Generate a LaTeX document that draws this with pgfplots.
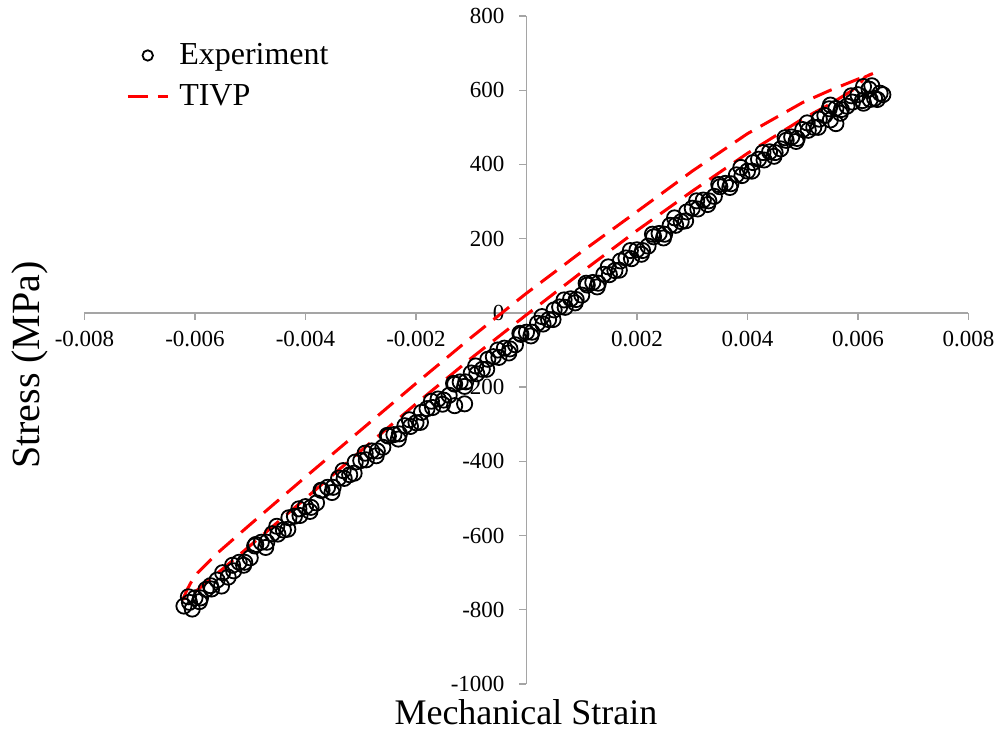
\documentclass[border=0pt]{standalone}
\usepackage{fontspec}
\setmainfont{Liberation Serif}
\usepackage{pgfplots}
\pgfplotsset{compat=1.18}
\definecolor{axgray}{RGB}{165,165,165}
\pgfplotsset{
  expleg/.style={legend image code/.code={\draw[##1, mark size=2.6pt] plot coordinates {(10pt,0pt)};}},
  lineleg/.style={legend image code/.code={\draw[##1] (0pt,0pt) -- (20pt,0pt);}},
}
\begin{document}
\begin{tikzpicture}[x=1pt,y=1pt]
\path[use as bounding box] (0,0) rectangle (500.5,365);
\begin{axis}[
  at={(42.25pt,23pt)}, anchor=south west,
  scale only axis, width=442pt, height=334pt,
  xmin=-0.008, xmax=0.008, ymin=-1000, ymax=800,
  axis lines=middle,
  axis line style={draw=axgray, line width=0.7pt, -},
  scaled x ticks=false, scaled y ticks=false,
  xtick={-0.008,-0.006,-0.004,-0.002,0.002,0.004,0.006,0.008},
  xticklabels={-0.008,-0.006,-0.004,-0.002,0.002,0.004,0.006,0.008},
  ytick={-1000,-800,-600,-400,-200,0,200,400,600,800},
  yticklabels={-1000,-800,-600,-400,-200,0,200,400,600,800},
  hide obscured x ticks=false, hide obscured y ticks=false,
  tick align=outside, major tick length=3.5pt,
  tick style={draw=axgray, line width=0.7pt},
  x tick label style={font=\fontsize{11.5}{14}\selectfont, yshift=-2pt},
  y tick label style={font=\fontsize{11.5}{14}\selectfont, xshift=-4pt},
  clip=false,
  xlabel={Mechanical Strain}, ylabel={Stress (MPa)},
  every axis x label/.style={at={(axis description cs:0.4994,-0.042)}, anchor=center, font=\fontsize{18}{21}\selectfont},
  every axis y label/.style={at={(axis description cs:-0.0617,0.4775)}, anchor=center, rotate=90, font=\fontsize{20}{23}\selectfont},
  legend style={at={(axis description cs:0.040,0.9716)}, anchor=north west, draw=none, fill=none,
    font=\fontsize{16}{19}\selectfont, row sep=4.5pt, column sep=3pt},
  legend cell align=left,
]
\addplot[only marks, mark=o, mark size=3.8pt, mark options={line width=0.9pt, draw=black}, black, expleg]
coordinates {
(-0.00620,-790) (-0.00600,-768) (-0.00580,-745) (-0.00560,-720) (-0.00540,-712) (-0.00520,-672) (-0.00500,-660) (-0.00480,-618) (-0.00460,-595) (-0.00440,-585) (-0.00420,-548) (-0.00400,-522) (-0.00380,-512) (-0.00360,-470) (-0.00340,-445) (-0.00320,-436) (-0.00300,-398) (-0.00280,-372) (-0.00260,-362) (-0.00240,-328) (-0.00220,-304) (-0.00200,-296) (-0.00180,-258) (-0.00160,-232) (-0.00140,-222) (-0.00120,-186) (-0.00100,-162) (-0.00080,-152) (-0.00060,-118) (-0.00040,-95) (-0.00020,-86) (0,-52) (0.00020,-28) (0.00040,-18) (0.00060,16) (0.00080,38) (0.00100,48) (0.00120,82) (0.00140,104) (0.00160,114) (0.00180,148) (0.00200,170) (0.00220,180) (0.00240,214) (0.00260,236) (0.00280,246) (0.00300,282) (0.00320,304) (0.00340,314) (0.00360,349) (0.00380,372) (0.00400,382) (0.00420,414) (0.00440,434) (0.00460,442) (0.00480,474) (0.00500,494) (0.00520,500) (0.00540,532) (0.00560,551) (0.00580,557) (0.00600,588) (0.00620,603) (0.00640,592)
(0.00630,578) (0.00610,610) (0.00590,568) (0.00570,548) (0.00550,520) (0.00530,522) (0.00510,492) (0.00490,470) (0.00470,465) (0.00450,432) (0.00430,412) (0.00410,405) (0.00390,370) (0.00370,348) (0.00350,340) (0.00330,302) (0.00310,280) (0.00290,272) (0.00270,236) (0.00250,212) (0.00230,205) (0.00210,168) (0.00190,146) (0.00170,140) (0.00150,103) (0.00130,80) (0.00110,75) (0.00090,36) (0.00070,15) (0.00050,8) (0.00030,-30) (0.00010,-52) (-0.00010,-58) (-0.00030,-97) (-0.00050,-120) (-0.00070,-125) (-0.00090,-164) (-0.00110,-186) (-0.00130,-192) (-0.00150,-235) (-0.00170,-255) (-0.00190,-268) (-0.00210,-306) (-0.00230,-326) (-0.00250,-332) (-0.00270,-372) (-0.00290,-396) (-0.00310,-402) (-0.00330,-446) (-0.00350,-470) (-0.00370,-478) (-0.00390,-524) (-0.00410,-546) (-0.00430,-552) (-0.00450,-596) (-0.00470,-618) (-0.00490,-624) (-0.00510,-672) (-0.00530,-695) (-0.00550,-700) (-0.00570,-744) (-0.00590,-768) (-0.00610,-780) (-0.00605,-798)
(-0.00612,-765) (-0.00592,-778) (-0.00572,-735) (-0.00552,-736) (-0.00532,-680) (-0.00512,-680) (-0.00492,-628) (-0.00472,-632) (-0.00452,-575) (-0.00432,-583) (-0.00412,-528) (-0.00392,-535) (-0.00372,-478) (-0.00352,-484) (-0.00332,-425) (-0.00312,-432) (-0.00292,-378) (-0.00272,-385) (-0.00252,-330) (-0.00232,-340) (-0.00212,-288) (-0.00192,-295) (-0.00172,-238) (-0.00152,-246) (-0.00132,-190) (-0.00112,-198) (-0.00092,-143) (-0.00072,-152) (-0.00052,-100) (-0.00032,-108) (-0.00012,-55) (0.00008,-62) (0.00028,-10) (0.00048,-18) (0.00068,35) (0.00088,27) (0.00108,80) (0.00128,70) (0.00148,124) (0.00168,115) (0.00188,168) (0.00208,158) (0.00228,212) (0.00248,202) (0.00268,256) (0.00288,248) (0.00308,302) (0.00328,292) (0.00348,346) (0.00368,338) (0.00388,392) (0.00408,382) (0.00428,432) (0.00448,422) (0.00468,472) (0.00488,462) (0.00508,512) (0.00528,500) (0.00548,550) (0.00568,538) (0.00588,585) (0.00608,572) (0.00625,612)
(-0.00130,-250) (-0.00112,-245) (0.00550,560) (0.00560,510) (0.00610,565) (0.00622,575) (0.00635,575) (0.00645,588)
};
\addlegendentry{Experiment}
\addplot[red, line width=1.5pt, dash pattern=on 10pt off 5pt, lineleg]
coordinates {
(-0.00622,-772) (-0.00615,-748) (-0.00605,-720) (-0.00595,-700) (-0.00580,-678) (-0.00560,-648)
(-0.00500,-570) (-0.00400,-442) (-0.00300,-316) (-0.00200,-190) (-0.00100,-66) (0,53)
(0.00100,165) (0.00200,273) (0.00300,382) (0.00400,483) (0.00500,567) (0.00550,600) (0.00600,630) (0.00627,645)
(0.00613,636) (0.00600,612) (0.00590,600) (0.00550,563) (0.00500,523) (0.00400,430) (0.00300,328)
(0.00200,222) (0.00100,110) (0,-5) (-0.00100,-122) (-0.00200,-245) (-0.00300,-372) (-0.00400,-500)
(-0.00500,-627) (-0.00550,-690) (-0.00600,-752) (-0.00622,-772)
};
\addlegendentry{TIVP}
\end{axis}
\end{tikzpicture}
\end{document}
